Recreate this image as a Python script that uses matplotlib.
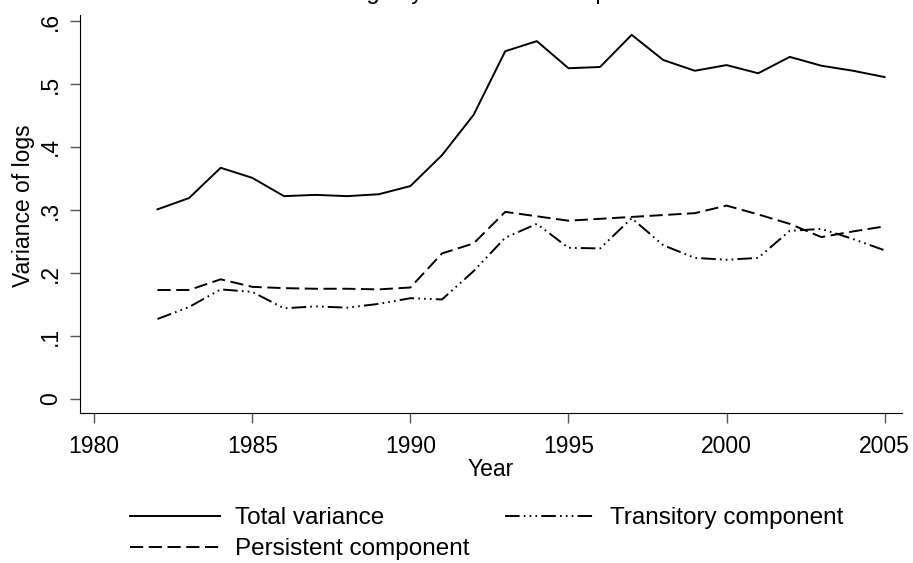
import numpy as np
import matplotlib
matplotlib.use("Agg")
import matplotlib.pyplot as plt

plt.rcParams['font.family'] = ['Liberation Sans', 'DejaVu Sans']
plt.rcParams['lines.scale_dashes'] = False

# data
years = list(range(1982, 2006))
total = [0.301, 0.319, 0.367, 0.351, 0.322, 0.324, 0.322, 0.325, 0.338, 0.387,
         0.451, 0.552, 0.568, 0.525, 0.527, 0.578, 0.538, 0.521, 0.530, 0.517,
         0.543, 0.529, 0.521, 0.511]
persistent = [0.173, 0.173, 0.190, 0.178, 0.176, 0.175, 0.175, 0.174, 0.177, 0.231,
              0.247, 0.297, 0.290, 0.283, 0.286, 0.289, 0.292, 0.295, 0.307, 0.293,
              0.278, 0.257, 0.266, 0.274]
transitory = [0.127, 0.146, 0.174, 0.170, 0.144, 0.147, 0.145, 0.151, 0.160, 0.158,
              0.203, 0.256, 0.278, 0.240, 0.239, 0.287, 0.244, 0.224, 0.221, 0.224,
              0.267, 0.270, 0.254, 0.236]
xticks = [1980, 1985, 1990, 1995, 2000, 2005]
yticks = [0, .1, .2, .3, .4, .5, .6]
ylabels = ['0', '.1', '.2', '.3', '.4', '.5', '.6']

fig = plt.figure(figsize=(9.13, 5.63), dpi=100)
ax = fig.add_axes([80 / 913, 150 / 563, 822 / 913, 398 / 563])

l_tot, = ax.plot(years, total, color='black', lw=1.4, label='Total variance')
l_tra, = ax.plot(years, transitory, color='black', lw=1.4,
                 dashes=(10.5, 3, 1.2, 3, 1.2, 3, 1.2, 3), label='Transitory component')
l_per, = ax.plot(years, persistent, color='black', lw=1.4, dashes=(9.5, 4),
                 label='Persistent component')

ax.set_xlim(1979.55, 2005.55)
ax.set_ylim(-0.0222, 0.6095)
ax.set_xticks(xticks)
ax.set_yticks(yticks)
ax.set_yticklabels(ylabels, rotation=90, va='center')
ax.tick_params(labelsize=16.5, length=7, width=1, color='#555555', direction='out', pad=6)
ax.tick_params(axis='x', pad=8.5)
ax.spines['top'].set_visible(False)
ax.spines['right'].set_visible(False)
ax.set_xlabel('Year', fontsize=16.5, labelpad=0)
ax.set_ylabel('Variance of logs', fontsize=16.5)
ax.yaxis.set_label_coords(-0.055, 0.52)

# title sits mostly above the top edge, as in the reference
fig.text(0.535, 1.0 + 1.5 / 563, 'Earnings dynamics and components', ha='center',
         va='baseline', fontsize=17)

fig.legend([l_tot, l_per, l_tra], ['Total variance', 'Persistent component', 'Transitory component'],
           loc='upper left', bbox_to_anchor=(130 / 913, 1 - 507 / 563), ncol=2, frameon=False,
           fontsize=17.5, handlelength=3.7, handletextpad=0.6, columnspacing=1.5,
           labelspacing=0.38, borderaxespad=0, borderpad=0)

fig.savefig('out.png', dpi=100)
